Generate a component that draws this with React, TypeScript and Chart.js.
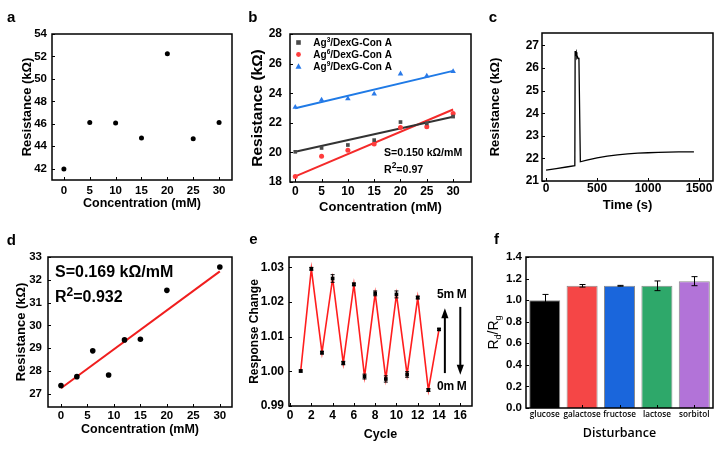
import React, { useEffect, useRef } from "react";
import { Chart, registerables } from "chart.js";
Chart.register(...registerables);

const SANS = "'Liberation Sans', Arial, Helvetica, sans-serif";
const OPEN = "'Open Sans', 'Noto Sans', sans-serif";

// ---------- panel a ----------
const aConc = [0, 5, 10, 15, 20, 25, 30];
const aRes = [41.97, 46.13, 46.07, 44.73, 52.25, 44.67, 46.13];
const aXTicks = [0, 5, 10, 15, 20, 25, 30];
const aYTicks = [42, 44, 46, 48, 50, 52, 54];

// ---------- panel b ----------
const bConc = [0, 5, 10, 15, 20, 25, 30];
const bAg3 = [20.04, 20.3, 20.5, 20.83, 22.05, 21.96, 22.42];
const bAg6 = [18.38, 19.74, 20.15, 20.56, 21.69, 21.73, 22.62];
const bAg9 = [23.05, 23.54, 23.63, 23.95, 25.31, 25.17, 25.47];
const bFitX = [0, 30];
const bFit3 = [20.05, 22.41];
const bFit6 = [18.38, 22.9];
const bFit9 = [22.98, 25.51];
const bXTicks = [0, 5, 10, 15, 20, 25, 30];
const bYTicks = [18, 20, 22, 24, 26, 28];
const bLegendSup = ["3", "6", "9"];
const bSlope = "S=0.150 kΩ/mM";
const bR2 = "0.97";

// ---------- panel c ----------
const cTime = [0, 100, 200, 282, 285, 290, 296, 302, 308, 315, 322, 336, 400, 500, 600, 700, 800, 900, 1000, 1100, 1200, 1300, 1450];
const cRes = [21.48, 21.55, 21.62, 21.68, 26.75, 26.6, 26.7, 26.45, 26.5, 26.42, 26.45, 21.85, 21.92, 22.02, 22.1, 22.16, 22.2, 22.23, 22.25, 22.27, 22.28, 22.29, 22.29];
const cXTicks = [0, 500, 1000, 1500];
const cYTicks = [21, 22, 23, 24, 25, 26, 27];

// ---------- panel d ----------
const dConc = [0, 3, 6, 9, 12, 15, 20, 30];
const dRes = [27.37, 27.76, 28.89, 27.83, 29.37, 29.4, 31.54, 32.56];
const dFitX = [0, 30];
const dFit = [27.25, 32.37];
const dXTicks = [0, 5, 10, 15, 20, 25, 30];
const dYTicks = [27, 28, 29, 30, 31, 32, 33];
const dSlope = "S=0.169 kΩ/mM";
const dR2 = "0.932";

// ---------- panel e ----------
const eCycle = [1, 2, 3, 4, 5, 6, 7, 8, 9, 10, 11, 12, 13, 14];
const eResp = [1.0001, 1.0296, 1.0054, 1.0268, 1.0024, 1.0251, 0.9985, 1.0225, 0.9978, 1.0222, 0.9991, 1.0213, 0.9946, 1.0121];
const eErr = [0.0003, 0.0004, 0.0004, 0.0011, 0.0005, 0.0004, 0.0007, 0.0007, 0.0009, 0.001, 0.0008, 0.0004, 0.0004, 0.0003];
const eXTicks = [0, 2, 4, 6, 8, 10, 12, 14, 16];
const eYTicks = [0.99, 1.0, 1.01, 1.02, 1.03];
const eUpArrow = [14.55, 0.9995, 1.0182];
const eDownArrow = [16.0, 1.0186, 0.9990];
const eLabelX = 15.2;
const eHighY = 1.022;
const eLowY = 0.9956;

// ---------- panel f ----------
const fLabels = ["glucose", "galactose", "fructose", "lactose", "sorbitol"];
const fRatio = [1.0, 1.133, 1.133, 1.133, 1.176];
const fErr = [0.053, 0.012, 0.004, 0.045, 0.042];
const fColors = ["#000000", "#f54646", "#1a66dc", "#2ea86a", "#b273d8"];
const fYTicks = [0, 0.2, 0.4, 0.6, 0.8, 1.0, 1.2, 1.4];

type AxisSpec = {
  min: number; max: number; ticks: number[]; fit: number; horiz: boolean; pad: number; size: number;
  title?: string; titleSize?: number; digits?: number;
};

function linAxis(o: AxisSpec) {
  return {
    type: "linear",
    position: o.horiz ? "bottom" : "left",
    min: o.min,
    max: o.max,
    afterBuildTicks: (s: any) => { s.ticks = o.ticks.map((v) => ({ value: v })); },
    afterFit: (s: any) => { if (o.horiz) s.height = o.fit; else s.width = o.fit; },
    grid: { display: false, drawTicks: false },
    border: { display: false },
    ticks: {
      color: "#000", padding: o.pad, autoSkip: false, maxRotation: 0, minRotation: 0,
      font: { family: SANS, size: o.size, weight: "bold" },
      callback: (v: any) => (o.digits != null ? Number(v).toFixed(o.digits) : String(v)),
    },
    title: o.title
      ? { display: true, text: o.title, color: "#000", padding: 0, font: { family: SANS, size: o.titleSize, weight: "bold", lineHeight: 1.2 } }
      : { display: false },
  };
}

function baseOptions(pl: number, pt: number, pr: number, pb: number, scales: any) {
  return {
    responsive: false,
    maintainAspectRatio: false,
    animation: false,
    devicePixelRatio: 1,
    events: [],
    layout: { padding: { left: pl, top: pt, right: pr, bottom: pb } },
    plugins: { legend: { display: false }, tooltip: { enabled: false } },
    scales,
  };
}

const framePlugin = {
  id: "frame",
  afterDraw(chart: any) {
    const { ctx, chartArea: a } = chart;
    ctx.save();
    ctx.strokeStyle = "#000";
    ctx.lineWidth = 1;
    const xs = chart.scales.x, ys = chart.scales.y;
    ctx.beginPath();
    xs.ticks.forEach((_: any, i: number) => {
      const p = Math.round(xs.getPixelForTick(i)) + 0.5;
      ctx.moveTo(p, a.bottom); ctx.lineTo(p, a.bottom - 3);
    });
    ys.ticks.forEach((_: any, i: number) => {
      const p = Math.round(ys.getPixelForTick(i)) + 0.5;
      ctx.moveTo(a.left, p); ctx.lineTo(a.left + 3, p);
    });
    ctx.stroke();
    ctx.lineWidth = 1.5;
    ctx.strokeRect(a.left, a.top, a.right - a.left, a.bottom - a.top);
    ctx.restore();
  },
};

function extras(fn: (chart: any, ctx: CanvasRenderingContext2D) => void) {
  return {
    id: "extras",
    afterDraw(chart: any) {
      const ctx = chart.ctx;
      ctx.save();
      fn(chart, ctx);
      ctx.restore();
    },
  };
}

type Part = { t: string; s?: "sup" | "sub" };
function drawRich(ctx: CanvasRenderingContext2D, parts: Part[], x: number, y: number, size: number, weight: string, family: string, supScale = 0.65) {
  let cx = x;
  ctx.textAlign = "left";
  ctx.textBaseline = "alphabetic";
  for (const p of parts) {
    const fs = p.s ? size * supScale : size;
    ctx.font = `${weight} ${fs}px ${family}`;
    const dy = p.s === "sup" ? -size * 0.42 : p.s === "sub" ? size * 0.28 : 0;
    ctx.fillText(p.t, cx, y + dy);
    cx += ctx.measureText(p.t).width;
  }
  return cx - x;
}
function richWidth(ctx: CanvasRenderingContext2D, parts: Part[], size: number, weight: string, family: string, supScale = 0.65) {
  let w = 0;
  for (const p of parts) {
    ctx.font = `${weight} ${p.s ? size * supScale : size}px ${family}`;
    w += ctx.measureText(p.t).width;
  }
  return w;
}

function letter(ctx: CanvasRenderingContext2D, t: string, x: number, y: number) {
  ctx.fillStyle = "#000";
  ctx.font = `bold 15px ${SANS}`;
  ctx.textAlign = "left";
  ctx.textBaseline = "alphabetic";
  ctx.fillText(t, x, y);
}

function pts(xs: number[], ys: number[]) {
  return xs.map((x, i) => ({ x, y: ys[i] }));
}

// ---------------- configs ----------------
function configA() {
  return {
    type: "scatter",
    data: {
      datasets: [
        { data: pts(aConc, aRes), pointRadius: 2.5, pointBackgroundColor: "#000", pointBorderColor: "#000", pointBorderWidth: 0 },
      ],
    },
    options: baseOptions(19.2, 34, 9, 13.5, {
      x: linAxis({ min: -2.3, max: 32.5, ticks: aXTicks, fit: 31.5, horiz: true, pad: 4, size: 11.5, title: "Concentration (mM)", titleSize: 12.5 }),
      y: linAxis({ min: 41, max: 54, ticks: aYTicks, fit: 32.8, horiz: false, pad: 5, size: 11.5, title: "Resistance (kΩ)", titleSize: 13 }),
    }),
    plugins: [framePlugin, extras((c, ctx) => letter(ctx, "a", 7, 21.7))],
  };
}

function configB() {
  return {
    type: "scatter",
    data: {
      datasets: [
        { data: pts(bConc, bAg3), pointStyle: "rect", pointRadius: 2.6, pointBackgroundColor: "#4a4a4a", pointBorderWidth: 0 },
        { data: pts(bConc, bAg6), pointStyle: "circle", pointRadius: 2.5, pointBackgroundColor: "#ff3c3c", pointBorderWidth: 0 },
        { data: pts(bConc, bAg9), pointStyle: "triangle", pointRadius: 3.2, pointBackgroundColor: "#2a7ae8", pointBorderWidth: 0 },
        { data: pts(bFitX, bFit3), showLine: true, pointRadius: 0, borderColor: "#333333", borderWidth: 2 },
        { data: pts(bFitX, bFit6), showLine: true, pointRadius: 0, borderColor: "#f42a2a", borderWidth: 2 },
        { data: pts(bFitX, bFit9), showLine: true, pointRadius: 0, borderColor: "#1f7ae6", borderWidth: 2 },
      ],
    },
    options: baseOptions(7.4, 34, 11, 10.2, {
      x: linAxis({ min: -1, max: 33.4, ticks: bXTicks, fit: 32.8, horiz: true, pad: 2.5, size: 12, title: "Concentration (mM)", titleSize: 13 }),
      y: linAxis({ min: 18, max: 28, ticks: bYTicks, fit: 41.6, horiz: false, pad: 8, size: 12, title: "Resistance (kΩ)", titleSize: 15.5 }),
    }),
    plugins: [
      framePlugin,
      extras((c, ctx) => {
        letter(ctx, "b", 7.3, 21.7);
        const rows = [42.5, 54.5, 66.5];
        const colors = ["#4a4a4a", "#ff3c3c", "#2a7ae8"];
        rows.forEach((ry, i) => {
          const mx = 57.5;
          ctx.fillStyle = colors[i];
          ctx.beginPath();
          if (i === 0) ctx.rect(mx - 2.3, ry - 2.3, 4.6, 4.6);
          else if (i === 1) ctx.arc(mx, ry, 2.4, 0, Math.PI * 2);
          else { ctx.moveTo(mx, ry - 3.2); ctx.lineTo(mx + 3, ry + 2.2); ctx.lineTo(mx - 3, ry + 2.2); ctx.closePath(); }
          ctx.fill();
          ctx.fillStyle = "#000";
          drawRich(ctx, [{ t: "Ag" }, { t: bLegendSup[i], s: "sup" }, { t: "/DexG-Con A" }], 72.3, ry + 3.6, 10, "bold", SANS);
        });
        ctx.fillStyle = "#000";
        drawRich(ctx, [{ t: bSlope }], 143, 155.8, 10.6, "bold", SANS);
        drawRich(ctx, [{ t: "R" }, { t: "2", s: "sup" }, { t: "=" + bR2 }], 143, 172.8, 10.6, "bold", SANS, 0.8);
      }),
    ],
  };
}

function configC() {
  return {
    type: "scatter",
    data: {
      datasets: [
        { data: pts(cTime, cRes), showLine: true, pointRadius: 0, borderColor: "#000", borderWidth: 1.3, tension: 0 },
      ],
    },
    options: baseOptions(5.5, 33, 10, 12.2, {
      x: linAxis({ min: -40, max: 1637, ticks: cXTicks, fit: 31.8, horiz: true, pad: 0, size: 12, title: "Time (s)", titleSize: 13 }),
      y: linAxis({ min: 21, max: 27.55, ticks: cYTicks, fit: 54.5, horiz: false, pad: 3, size: 12, title: "Resistance (kΩ)", titleSize: 13 }),
    }),
    plugins: [framePlugin, extras((c, ctx) => letter(ctx, "c", 6.7, 21.7))],
  };
}

function configD() {
  return {
    type: "scatter",
    data: {
      datasets: [
        { data: pts(dConc, dRes), pointRadius: 2.8, pointBackgroundColor: "#000", pointBorderWidth: 0 },
        { data: pts(dFitX, dFit), showLine: true, pointRadius: 0, borderColor: "#f01e1e", borderWidth: 2 },
      ],
    },
    options: baseOptions(13.9, 32, 9, 12.5, {
      x: linAxis({ min: -2.45, max: 32.3, ticks: dXTicks, fit: 30.5, horiz: true, pad: 2, size: 11.5, title: "Concentration (mM)", titleSize: 12.5 }),
      y: linAxis({ min: 26.43, max: 33, ticks: dYTicks, fit: 34.1, horiz: false, pad: 6, size: 11.5, title: "Resistance (kΩ)", titleSize: 13 }),
    }),
    plugins: [
      framePlugin,
      extras((c, ctx) => {
        letter(ctx, "d", 6.7, 20);
        ctx.fillStyle = "#000";
        drawRich(ctx, [{ t: dSlope }], 55, 52.4, 16, "bold", SANS);
        drawRich(ctx, [{ t: "R" }, { t: "2", s: "sup" }, { t: "=" + dR2 }], 55, 77.4, 16, "bold", SANS, 0.75);
      }),
    ],
  };
}

function arrow(ctx: CanvasRenderingContext2D, x: number, y0: number, y1: number) {
  const dir = y1 < y0 ? -1 : 1;
  ctx.strokeStyle = "#000";
  ctx.fillStyle = "#000";
  ctx.lineWidth = 2;
  ctx.beginPath();
  ctx.moveTo(x, y0);
  ctx.lineTo(x, y1 - dir * 7);
  ctx.stroke();
  ctx.beginPath();
  ctx.moveTo(x, y1);
  ctx.lineTo(x - 3.6, y1 - dir * 10);
  ctx.lineTo(x + 3.6, y1 - dir * 10);
  ctx.closePath();
  ctx.fill();
}

function configE() {
  return {
    type: "scatter",
    data: {
      datasets: [
        {
          data: pts(eCycle, eResp), showLine: true, borderColor: "#ff1e1e", borderWidth: 1.6, tension: 0,
          pointStyle: "rect", pointRadius: 2.6, pointBackgroundColor: "#000", pointBorderColor: "#000", pointBorderWidth: 0,
        },
      ],
    },
    options: baseOptions(6.1, 32, 10, 7.5, {
      x: linAxis({ min: -0.1, max: 17.1, ticks: eXTicks, fit: 36.5, horiz: true, pad: 2, size: 12, title: "Cycle", titleSize: 12.5 }),
      y: linAxis({ min: 0.99, max: 1.033, ticks: eYTicks, fit: 41.9, horiz: false, pad: 5, size: 12, title: "Response Change", titleSize: 12, digits: 2 }),
    }),
    plugins: [
      framePlugin,
      extras((c, ctx) => {
        letter(ctx, "e", 8.3, 19.3);
        const xs = c.scales.x, ys = c.scales.y;
        ctx.strokeStyle = "#000";
        ctx.lineWidth = 1;
        ctx.beginPath();
        eCycle.forEach((cx, i) => {
          const px = xs.getPixelForValue(cx);
          const t = ys.getPixelForValue(eResp[i] + eErr[i]);
          const b = ys.getPixelForValue(eResp[i] - eErr[i]);
          ctx.moveTo(px, t); ctx.lineTo(px, b);
          ctx.moveTo(px - 2, t); ctx.lineTo(px + 2, t);
          ctx.moveTo(px - 2, b); ctx.lineTo(px + 2, b);
        });
        ctx.stroke();
        arrow(ctx, xs.getPixelForValue(eUpArrow[0]), ys.getPixelForValue(eUpArrow[1]), ys.getPixelForValue(eUpArrow[2]));
        arrow(ctx, xs.getPixelForValue(eDownArrow[0]), ys.getPixelForValue(eDownArrow[1]), ys.getPixelForValue(eDownArrow[2]));
        ctx.fillStyle = "#000";
        ctx.font = `bold 12px ${SANS}`;
        ctx.textAlign = "center";
        ctx.textBaseline = "middle";
        ctx.fillText("5m\u2009M", xs.getPixelForValue(eLabelX), ys.getPixelForValue(eHighY));
        ctx.fillText("0m\u2009M", xs.getPixelForValue(eLabelX), ys.getPixelForValue(eLowY));
      }),
    ],
  };
}

function configF() {
  return {
    type: "bar",
    data: {
      labels: fLabels,
      datasets: [
        {
          data: fRatio, backgroundColor: fColors, borderColor: "#8c8c8c", borderWidth: 1,
          barPercentage: 0.83, categoryPercentage: 1,
        },
      ],
    },
    options: baseOptions(0, 32, 10, 9.2, {
      x: {
        type: "category",
        position: "bottom",
        afterFit: (s: any) => { s.height = 32.8; },
        grid: { display: false, drawTicks: false },
        border: { display: false },
        ticks: { color: "#000", padding: 2, autoSkip: false, maxRotation: 0, minRotation: 0, font: { family: OPEN, size: 8.2, weight: "600" } },
        title: { display: true, text: "Disturbance", color: "#000", padding: 0, font: { family: OPEN, size: 12.5, weight: "600", lineHeight: 1.2 } },
      },
      y: linAxis({ min: 0, max: 1.4, ticks: fYTicks, fit: 44, horiz: false, pad: 4, size: 11.5, digits: 1 }),
    }),
    plugins: [
      framePlugin,
      extras((c, ctx) => {
        letter(ctx, "f", 12, 19.3);
        const xs = c.scales.x, ys = c.scales.y;
        ctx.strokeStyle = "#000";
        ctx.lineWidth = 1;
        ctx.beginPath();
        fRatio.forEach((v, i) => {
          const px = Math.round(xs.getPixelForValue(i)) + 0.5;
          const t = ys.getPixelForValue(v + fErr[i]);
          const b = ys.getPixelForValue(v - fErr[i]);
          ctx.moveTo(px, t); ctx.lineTo(px, b);
          ctx.moveTo(px - 3, t); ctx.lineTo(px + 3, t);
          ctx.moveTo(px - 3, b); ctx.lineTo(px + 3, b);
        });
        ctx.stroke();
        // y title R_d/R_g
        const parts: Part[] = [{ t: "R" }, { t: "d", s: "sub" }, { t: "/R" }, { t: "g", s: "sub" }];
        const a = c.chartArea;
        const cy = (a.top + a.bottom) / 2;
        ctx.fillStyle = "#000";
        ctx.translate(15.5, cy);
        ctx.rotate(-Math.PI / 2);
        const w = richWidth(ctx, parts, 14, "normal", SANS);
        drawRich(ctx, parts, -w / 2, 0, 14, "normal", SANS);
      }),
    ],
  };
}

function Panel({ x, y, build }: { x: number; y: number; build: () => any }) {
  const ref = useRef<HTMLCanvasElement>(null);
  useEffect(() => {
    const chart = new Chart(ref.current as HTMLCanvasElement, build());
    return () => chart.destroy();
  }, []);
  return (
    <canvas
      ref={ref}
      width={241}
      height={225}
      style={{ position: "absolute", left: x, top: y, width: 241, height: 225, display: "block" }}
    />
  );
}

export default function App() {
  return (
    <div style={{ position: "absolute", left: 0, top: 0, width: 723, height: 450, background: "#fff", overflow: "hidden" }}>
      <Panel x={0} y={0} build={configA} />
      <Panel x={241} y={0} build={configB} />
      <Panel x={482} y={0} build={configC} />
      <Panel x={0} y={225} build={configD} />
      <Panel x={241} y={225} build={configE} />
      <Panel x={482} y={225} build={configF} />
    </div>
  );
}
